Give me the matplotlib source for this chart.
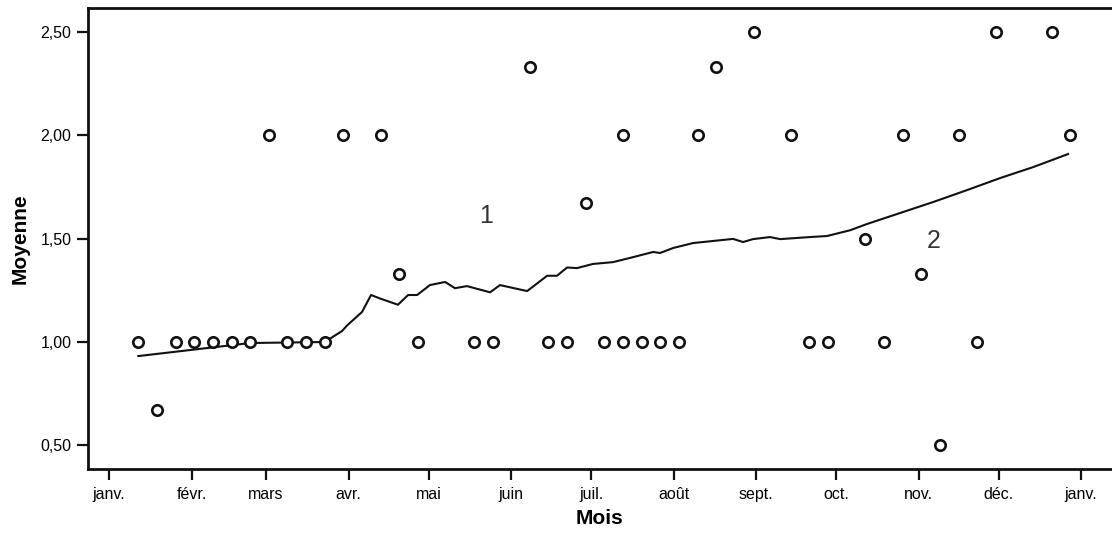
"""
Moyenne par semaine sur l'année, avec courbe lissée
"""
import matplotlib
import matplotlib.pyplot as plt

matplotlib.use('Agg')

# Weekly observations (day of year, mean value)
point_days = [11, 18, 25, 32, 39, 46, 53, 60, 67, 74, 81, 88, 102, 109, 116,
              137, 144, 158, 165, 172, 179, 186, 193, 193, 200, 207, 214, 221,
              228, 242, 256, 263, 270, 284, 291, 298, 305, 312, 319, 326, 333,
              354, 361]
point_values = [1.00, 0.67, 1.00, 1.00, 1.00, 1.00, 1.00, 2.00, 1.00, 1.00, 1.00,
                2.00, 2.00, 1.33, 1.00, 1.00, 1.00, 2.33, 1.00, 1.00, 1.67, 1.00,
                1.00, 2.00, 1.00, 1.00, 1.00, 2.00, 2.33, 2.50, 2.00, 1.00, 1.00,
                1.50, 1.00, 2.00, 1.33, 0.50, 2.00, 1.00, 2.50, 2.50, 2.00]

# Smoothed curve
curve_days = [11, 53, 81, 87.5, 89.4, 95, 98.4, 101.8, 108.5, 112.3, 115.7, 120.5,
              126.2, 129.9, 134.4, 143.1, 146.8, 157, 164.5, 168.2, 172, 175.7,
              181.7, 189.3, 196.8, 204.3, 206.9, 211.8, 219.3, 226.8, 234.3,
              238.1, 241.8, 248.2, 252, 263.2, 269.6, 278.3, 284.6, 297, 309.4,
              322.2, 334.6, 347, 360.1]
curve_values = [0.932, 0.995, 1.00, 1.053, 1.08, 1.145, 1.227, 1.21, 1.18, 1.227,
                1.227, 1.275, 1.29, 1.26, 1.27, 1.24, 1.275, 1.246, 1.32, 1.32,
                1.36, 1.357, 1.377, 1.386, 1.41, 1.435, 1.43, 1.454, 1.478, 1.488,
                1.498, 1.483, 1.497, 1.507, 1.497, 1.507, 1.512, 1.54, 1.57, 1.623,
                1.676, 1.734, 1.792, 1.845, 1.908]

month_starts = [0, 31, 59, 90, 120, 151, 181, 212, 243, 273, 304, 334, 365]
month_labels = ['janv.', 'févr.', 'mars', 'avr.', 'mai', 'juin', 'juil.',
                'août', 'sept.', 'oct.', 'nov.', 'déc.', 'janv.']
y_ticks = [0.5, 1.0, 1.5, 2.0, 2.5]
y_labels = ['0,50', '1,00', '1,50', '2,00', '2,50']

plt.rcParams['font.family'] = ['Liberation Sans', 'DejaVu Sans']

fig = plt.figure(figsize=(11.12, 5.35), dpi=100)
ax = fig.add_axes([0.0791, 0.1234, 0.9209, 0.8616])

ax.plot(curve_days, curve_values, color='#111111', linewidth=1.5)
ax.plot(point_days, point_values, linestyle='none', marker='o', markersize=7.5,
        markerfacecolor='white', markeredgecolor='#111111', markeredgewidth=1.9)

ax.text(141.6, 1.61, '1', fontsize=18, color='#333333', ha='center', va='center')
ax.text(309.8, 1.49, '2', fontsize=18, color='#333333', ha='center', va='center')

ax.set_xlim(-7.9, 376.6)
ax.set_ylim(0.3865, 2.6135)
ax.set_xticks(month_starts)
ax.set_xticklabels(month_labels, fontsize=11.5)
ax.set_yticks(y_ticks)
ax.set_yticklabels(y_labels, fontsize=11.5)
ax.tick_params(axis='both', direction='out', length=8, width=1.6, color='#111111')
ax.tick_params(axis='x', pad=5)
ax.tick_params(axis='y', pad=4)

for side in ['left', 'bottom', 'top']:
    ax.spines[side].set_linewidth(2)
    ax.spines[side].set_color('#111111')
ax.spines['right'].set_visible(False)

ax.set_xlabel('Mois', fontsize=15, fontweight='bold', labelpad=5)
ax.set_ylabel('Moyenne', fontsize=15, fontweight='bold', labelpad=8)

fig.savefig('out.png', dpi=100)
plt.close(fig)
